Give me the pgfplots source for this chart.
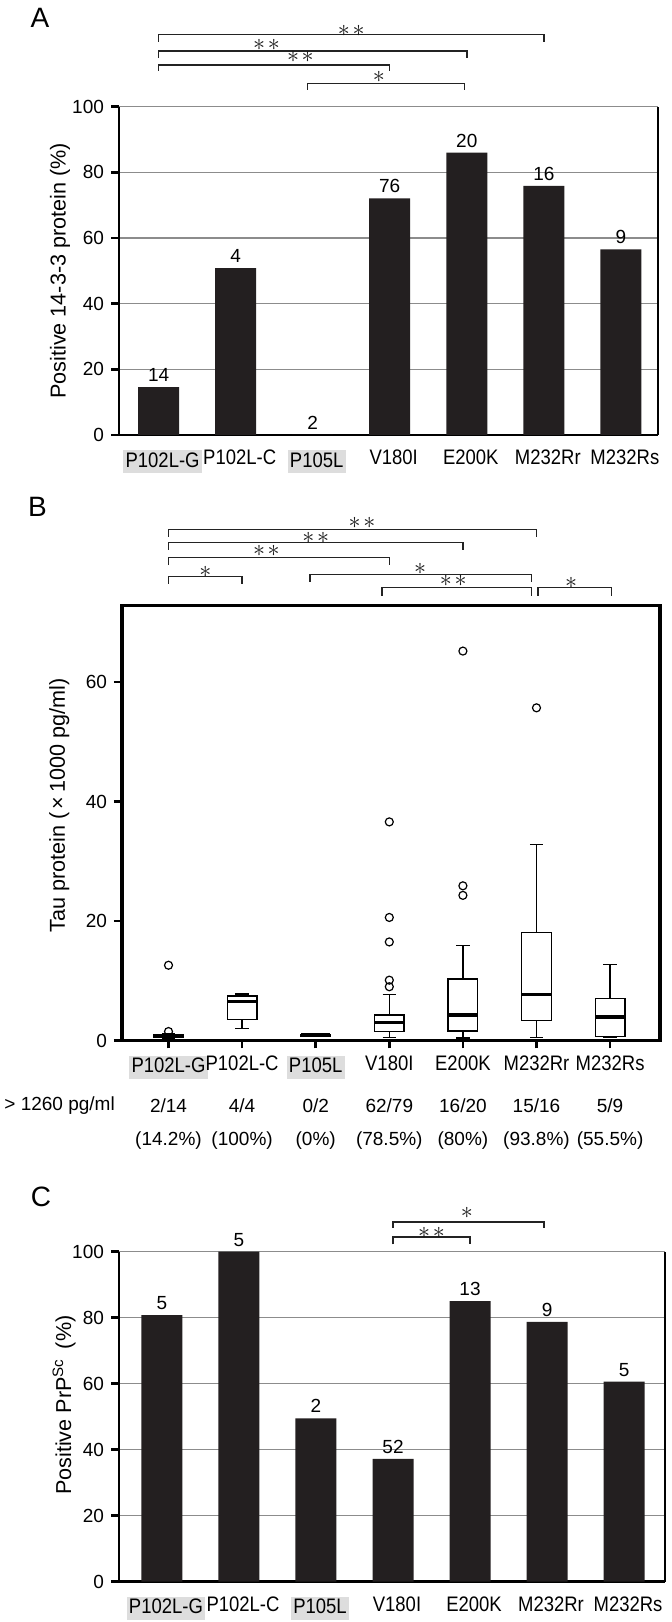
\documentclass[border=0pt]{standalone}
\usepackage{fontspec}
\setmainfont{Liberation Sans}
\newfontfamily\narrowsans{Liberation Sans}[FakeStretch=0.88]
\usepackage{pgfplots}
\pgfplotsset{compat=1.18}
\usepgfplotslibrary{statistics}

\definecolor{barblack}{RGB}{35,31,32}
\definecolor{gridgray}{RGB}{140,140,140}
\definecolor{lblgray}{RGB}{221,221,221}
\definecolor{sig}{RGB}{35,35,35}
\definecolor{star}{RGB}{25,25,25}

% gray background behind some category names
\newcommand{\gl}[1]{{\setlength{\fboxsep}{0pt}\colorbox{lblgray}{\rule[-3pt]{0pt}{11.5pt}\hspace{1.2pt}#1\hspace{1.2pt}}}}
% significance bracket: x1, x2, y of line, y of ends
\newcommand{\brk}[4]{\draw[sig, line width=0.72pt] (axis cs:#1,#4) -- (axis cs:#1,#3) -- (axis cs:#2,#3) -- (axis cs:#2,#4);}
\newcommand{\sone}{{\fontsize{11.5}{12}\selectfont$\ast$}}
\newcommand{\stwo}{{\fontsize{11.5}{12}\selectfont$\ast\mkern2mu\ast$}}
\newcommand{\xlbl}{\narrowsans\fontsize{10.5}{12}\selectfont}

\pgfplotsset{
  panel/.style={
    scale only axis, clip=false,
    /pgf/number format/assume math mode=true,
    yticklabel style={font=\fontsize{9.5}{11}\selectfont, black},
    xticklabel style={font=\xlbl, black},
    ylabel style={font=\fontsize{10.8}{13}\selectfont},
    major tick length=4pt, tick align=outside,
    xtick={0,...,6},
    xticklabels={{\gl{P102L-G}},P102L-C,{\gl{P105L}},V180I,E200K,M232Rr,M232Rs},
  },
  barpanel/.style={
    panel,
    ymin=0, ymax=100, ytick={0,20,...,100},
    axis x line*=bottom, axis y line*=left,
    axis line style={-, black, line width=1.4pt},
    ymajorgrids, grid style={gridgray, line width=0.8pt},
    x tick style={draw=none},
    y tick style={black, line width=1.2pt},
    xticklabel style={xshift=2pt},
    ybar, bar width=20.5pt,
    nodes near coords, point meta=explicit symbolic,
    nodes near coords style={font=\fontsize{9.5}{11}\selectfont, black, anchor=south, inner sep=2.5pt},
  },
  bxs/.style={black, line width=0.7pt, solid, mark=o, mark size=2pt,
    mark options={solid, line width=0.6pt},
    boxplot/box extend=0.4, boxplot/whisker extend=0.18,
    boxplot/every median/.style={line width=1.8pt}},
}

\pgfplotstableread{
x y n
0 14.6 14
1 50.8 4
2 0 2
3 72.1 76
4 86.0 20
5 75.9 16
6 56.5 9
}\tabA

\pgfplotstableread{
x y n
0 80.8 5
1 100 5
2 49.5 2
3 37.2 52
4 85.0 13
5 78.7 9
6 60.6 5
}\tabC

\begin{document}
\begin{tikzpicture}
\useasboundingbox (0,0) rectangle (336pt,811pt);

\node[font=\fontsize{14}{16}\selectfont] at (20pt,802pt) {A};
\node[font=\fontsize{14}{16}\selectfont] at (18.75pt,557.6pt) {B};
\node[font=\fontsize{14}{16}\selectfont] at (20.5pt,212.6pt) {C};

% ---------- A ----------
\begin{axis}[barpanel,
  at={(59.5pt,593.5pt)}, anchor=south west,
  width=269.5pt, height=164.15pt,
  xmin=-0.514, xmax=6.482,
  ylabel={Positive 14-3-3 protein (\%)},
  ylabel style={at={(axis description cs:-0.1095,0.5)}, anchor=center},
]
\addplot[fill=barblack, draw=none] table[x=x, y=y, meta=n] {\tabA};
\draw[black, line width=1pt] (rel axis cs:1,0) -- (rel axis cs:1,1);
\brk{0}{5}{122.0}{119.8}
\node[star, inner sep=0] at (axis cs:2.5,123.2) {\stwo};
\brk{0}{4}{117.0}{114.8}
\node[star, inner sep=0] at (axis cs:1.4,118.8) {\stwo};
\brk{0}{3}{112.7}{110.9}
\node[star, inner sep=0] at (axis cs:1.84,115.1) {\stwo};
\brk{1.93}{3.97}{107.0}{105.2}
\node[star, inner sep=0] at (axis cs:2.86,109.2) {\sone};
\end{axis}

% ---------- B ----------
\begin{axis}[panel,
  at={(61pt,290.75pt)}, anchor=south west,
  width=269pt, height=217.4pt,
  xmin=-0.632, xmax=6.678, ymin=0, ymax=72.8,
  ytick={0,20,40,60},
  tick pos=left,
  axis line style={black, line width=1.6pt},
  tick style={black, line width=1.3pt},
  boxplot/draw direction=y,
  ylabel={Tau protein (\,×\,1000 pg/ml)},
  ylabel style={at={(axis description cs:-0.1167,0.54)}, anchor=center},
]
\addplot[bxs, boxplot prepared={draw position=0, lower whisker=0.25, lower quartile=0.47, median=0.72, upper quartile=1.04, upper whisker=1.2}]
  table[row sep=\\, y index=0] {1.5\\ 12.6\\};
\addplot[bxs, boxplot prepared={draw position=1, lower whisker=2.0, lower quartile=3.55, median=6.5, upper quartile=7.45, upper whisker=7.8}]
  coordinates {};
\addplot[bxs, boxplot prepared={draw position=2, lower whisker=0.7, lower quartile=0.75, median=0.9, upper quartile=1.05, upper whisker=1.1}]
  coordinates {};
\addplot[bxs, boxplot prepared={draw position=3, lower whisker=0.5, lower quartile=1.5, median=3.0, upper quartile=4.3, upper whisker=7.7}]
  table[row sep=\\, y index=0] {9.0\\ 10.1\\ 16.5\\ 20.6\\ 36.6\\};
\addplot[bxs, boxplot prepared={draw position=4, lower whisker=0.45, lower quartile=1.6, median=4.3, upper quartile=10.3, upper whisker=15.9}]
  table[row sep=\\, y index=0] {24.3\\ 25.9\\ 65.2\\};
\addplot[bxs, boxplot prepared={draw position=5, lower whisker=0.55, lower quartile=3.3, median=7.7, upper quartile=18.1, upper whisker=32.8}]
  table[row sep=\\, y index=0] {55.7\\};
\addplot[bxs, boxplot prepared={draw position=6, lower whisker=0.6, lower quartile=0.67, median=3.9, upper quartile=7.05, upper whisker=12.7}]
  coordinates {};
\brk{0}{5}{85.6}{84.3}
\node[star, inner sep=0] at (axis cs:2.63,86.7) {\stwo};
\brk{0}{4}{83.4}{82.2}
\node[star, inner sep=0] at (axis cs:2.0,84.2) {\stwo};
\brk{0}{3}{80.9}{79.6}
\node[star, inner sep=0] at (axis cs:1.33,82.0) {\stwo};
\brk{0}{1}{77.7}{76.5}
\node[star, inner sep=0] at (axis cs:0.5,78.4) {\sone};
\brk{1.92}{4.93}{78.0}{76.8}
\node[star, inner sep=0] at (axis cs:3.42,78.9) {\sone};
\brk{2.9}{4.93}{75.8}{74.5}
\node[star, inner sep=0] at (axis cs:3.87,76.9) {\stwo};
\brk{5.02}{6.02}{75.8}{74.5}
\node[star, inner sep=0] at (axis cs:5.47,76.6) {\sone};
% counts above 1260 pg/ml
\begin{scope}[every node/.style={font=\fontsize{9.5}{11}\selectfont, anchor=center}]
\node at (axis cs:0,-10.97) {2/14};
\node at (axis cs:1,-10.97) {4/4};
\node at (axis cs:2,-10.97) {0/2};
\node at (axis cs:3,-10.97) {62/79};
\node at (axis cs:4,-10.97) {16/20};
\node at (axis cs:5,-10.97) {15/16};
\node at (axis cs:6,-10.97) {5/9};
\node at (axis cs:0,-16.7) {(14.2\%)};
\node at (axis cs:1,-16.7) {(100\%)};
\node at (axis cs:2,-16.7) {(0\%)};
\node at (axis cs:3,-16.7) {(78.5\%)};
\node at (axis cs:4,-16.7) {(80\%)};
\node at (axis cs:5,-16.7) {(93.8\%)};
\node at (axis cs:6,-16.7) {(55.5\%)};
\node[anchor=west, inner sep=0] at (axis cs:-2.235,-10.97) {> 1260 pg/ml};
\end{scope}
\end{axis}

% ---------- C ----------
\begin{axis}[barpanel,
  at={(59.5pt,20.15pt)}, anchor=south west,
  width=273pt, height=165pt,
  xmin=-0.558, xmax=6.532,
  ylabel={Positive PrP\textsuperscript{Sc}\, (\%)},
  ylabel style={at={(axis description cs:-0.1007,0.535)}, anchor=center},
]
\addplot[fill=barblack, draw=none] table[x=x, y=y, meta=n] {\tabC};
\draw[black, line width=1pt] (rel axis cs:1,0) -- (rel axis cs:1,1);
\brk{3}{4.96}{109.0}{107.2}
\node[star, inner sep=0] at (axis cs:3.96,111.7) {\sone};
\brk{3}{4}{104.4}{102.2}
\node[star, inner sep=0] at (axis cs:3.5,105.8) {\stwo};
\end{axis}
\end{tikzpicture}
\end{document}
